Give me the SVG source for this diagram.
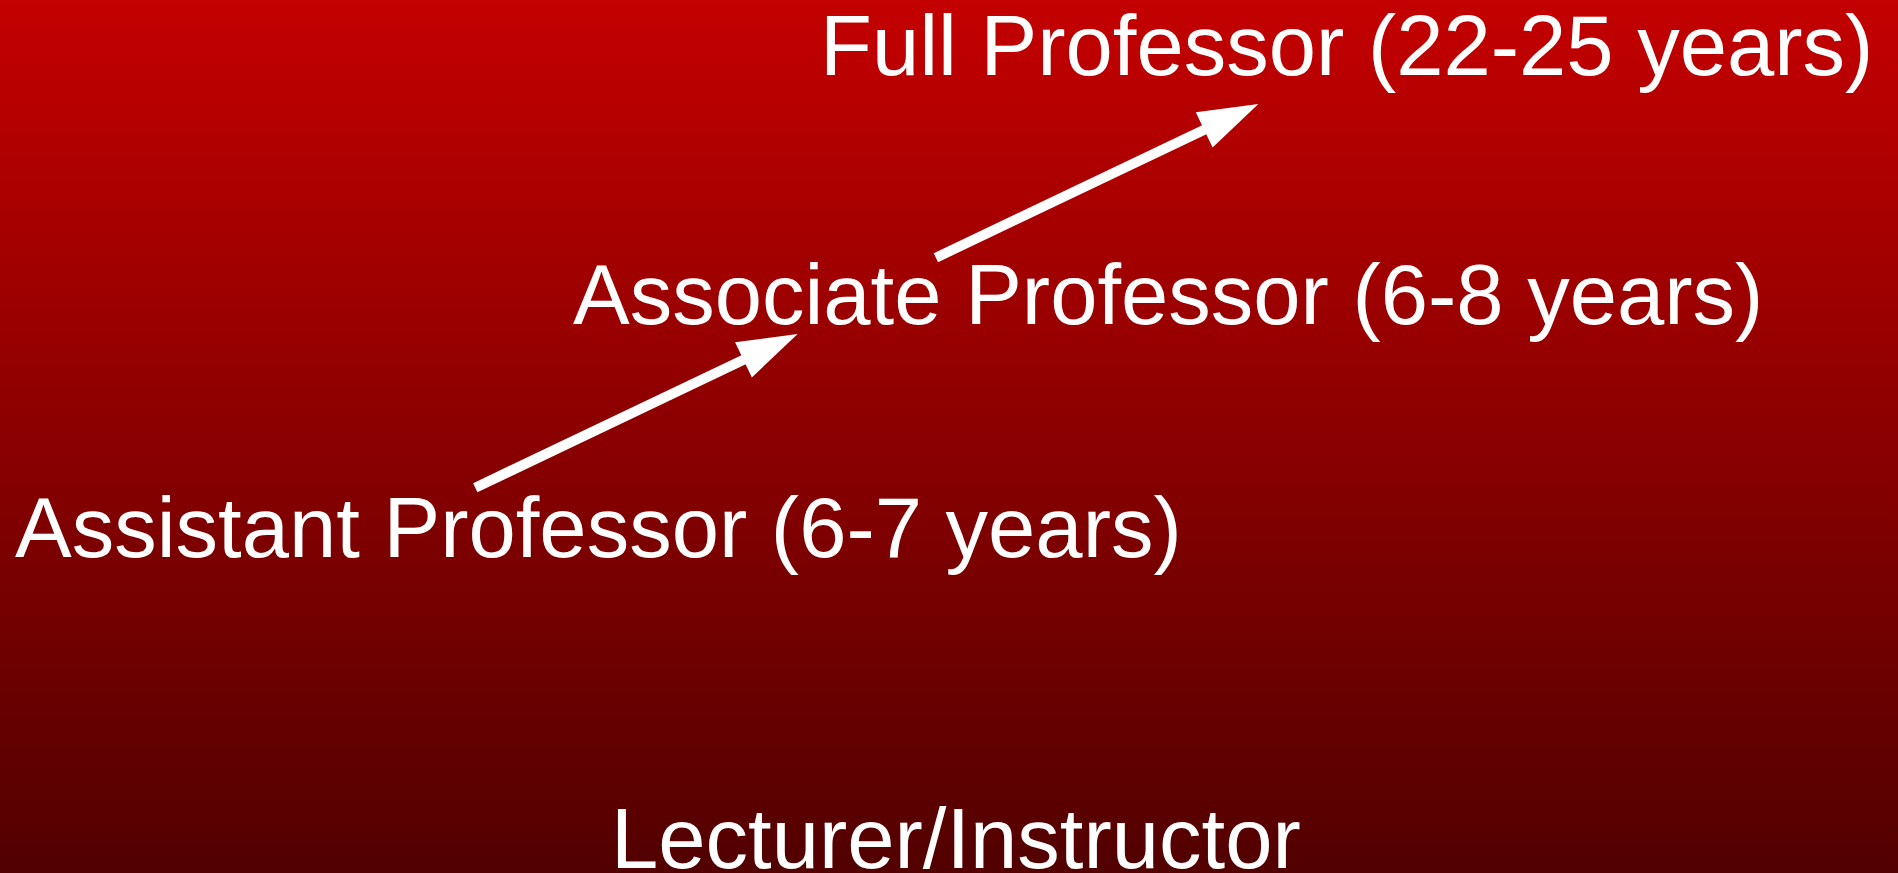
<svg xmlns="http://www.w3.org/2000/svg" width="1898" height="873" viewBox="0 0 1898 873">
  <defs>
    <linearGradient id="bg" x1="0" y1="0" x2="0" y2="1">
      <stop offset="0" stop-color="#c40000"/>
      <stop offset="1" stop-color="#520000"/>
    </linearGradient>
    <marker id="arrow" markerUnits="userSpaceOnUse" orient="auto" refX="0" refY="0" markerWidth="80" markerHeight="50" viewBox="-5 -25 70 50" overflow="visible">
      <path d="M-3,-19.5 L57,0 L-3,19.5 Z" fill="#ffffff"/>
    </marker>
    <style>
      .label { font-family: "Liberation Sans", Arial, sans-serif; font-size: 85px; fill: #ffffff; }
      .conn { stroke: #ffffff; stroke-width: 10; fill: none; marker-end: url(#arrow); }
    </style>
  </defs>
  <rect x="0" y="0" width="1898" height="873" fill="url(#bg)"/>
  <g id="connectors">
    <line class="conn" x1="475.3" y1="487.7" x2="746.2" y2="358.5"/>
    <line class="conn" x1="935.9" y1="257.7" x2="1206.9" y2="128.5"/>
  </g>
  <g id="full-professor">
    <text class="label" x="820" y="75">Full Professor (22-25 years)</text>
  </g>
  <g id="associate-professor">
    <text class="label" x="573" y="324">Associate Professor (6-8 years)</text>
  </g>
  <g id="assistant-professor">
    <text class="label" x="15" y="557">Assistant Professor (6-7 years)</text>
  </g>
  <g id="lecturer">
    <text class="label" x="611" y="868">Lecturer/Instructor</text>
  </g>
</svg>
